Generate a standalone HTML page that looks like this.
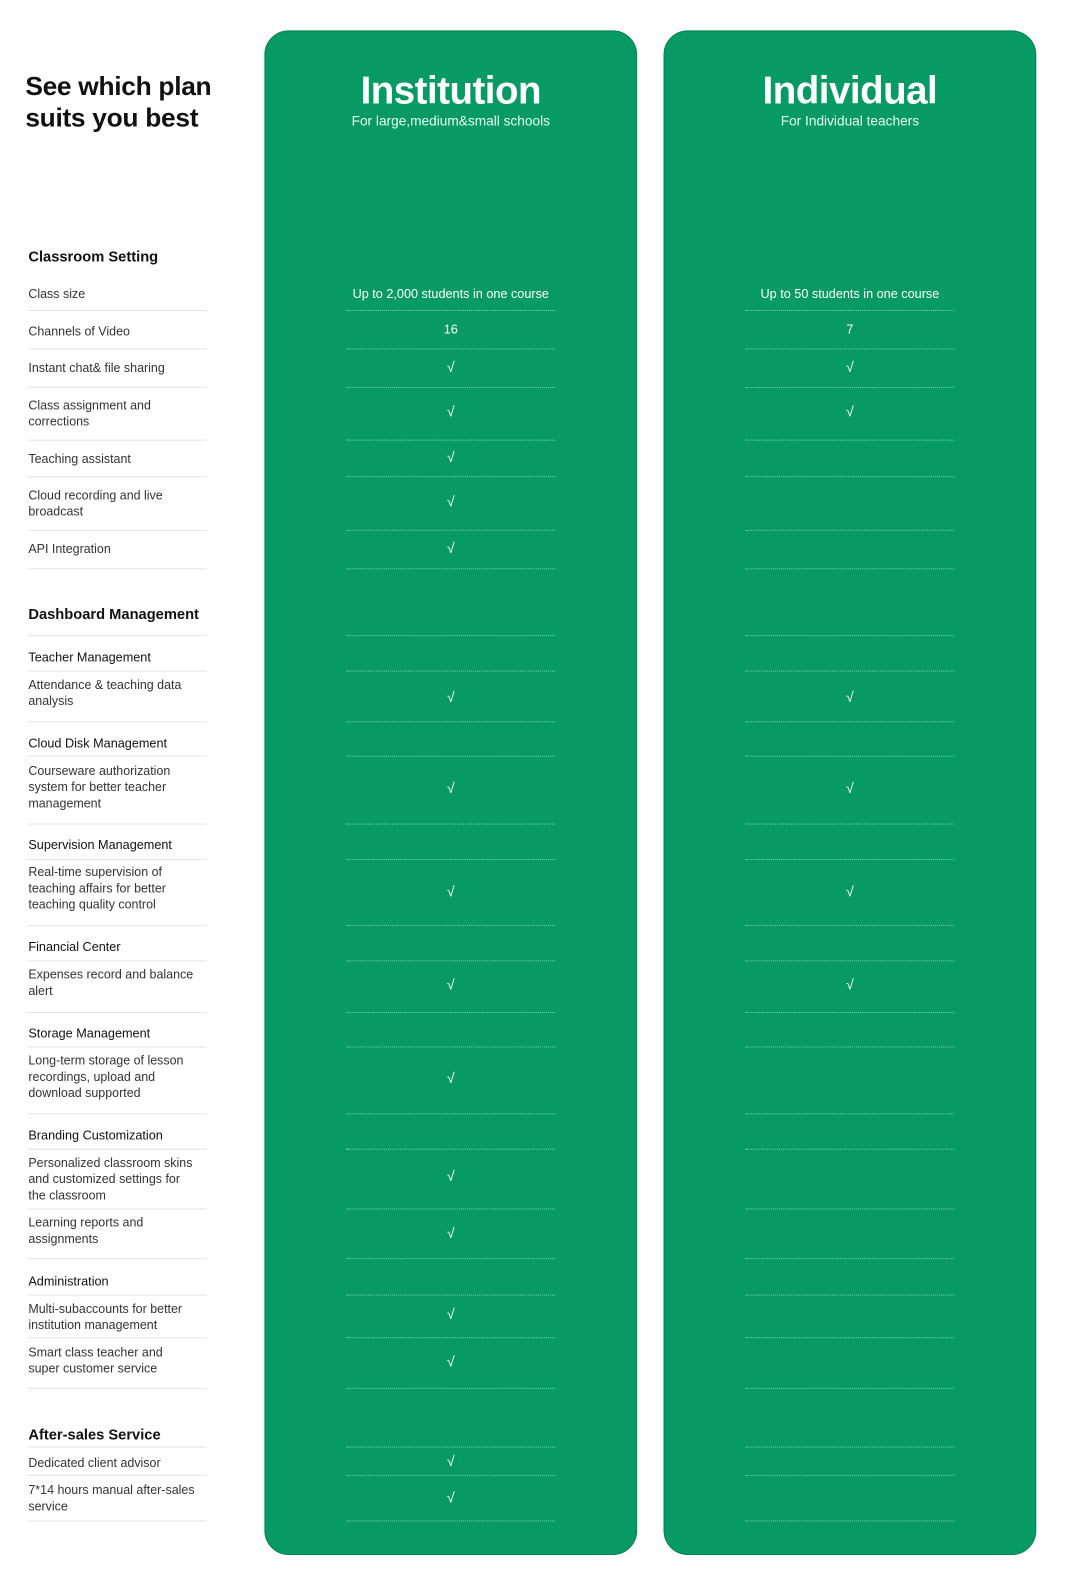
<!DOCTYPE html>
<html><head><meta charset="utf-8"><style>
html,body{margin:0;padding:0;background:#fff;width:1070px;height:1588px;overflow:hidden}
#w{position:absolute;left:0;top:0;width:1056px;height:1568px;transform:scale(1.013);transform-origin:0 0;font-family:"Liberation Sans",sans-serif}
.p{position:absolute;top:30px;width:366px;height:1503px;background:#079a64;border:1px solid #06804f;border-radius:24px}
.h{position:absolute;left:25px;font-size:26px;font-weight:bold;color:#111;letter-spacing:-0.3px}
.t{position:absolute;width:368px;text-align:center;color:#fff;font-weight:bold;font-size:38px;top:69px;letter-spacing:-0.5px}
.st{position:absolute;width:368px;text-align:center;color:#eafff4;font-size:13.5px;top:112px}
.l{position:absolute;left:28px;width:185px;font-size:12.3px;line-height:16px;color:#333}
.b{position:absolute;left:28px;font-size:14.5px;font-weight:bold;color:#111}
.m{position:absolute;left:28px;font-size:12.5px;color:#111}
.s{position:absolute;left:28px;width:176px;height:0;border-top:1px solid #e3e3e3}
.d{position:absolute;width:206px;height:0;border-top:1px dotted rgba(255,255,255,0.5)}
.c{position:absolute;width:40px;text-align:center;color:#fff;font-size:14px;line-height:16px}
.v{position:absolute;width:260px;text-align:center;color:#fff;font-size:12.5px;line-height:16px}
</style></head><body><div id="w">
<div class="h" style="top:70px">See which plan</div>
<div class="h" style="top:101px">suits you best</div>

<div class="p" style="left:261px"></div>
<div class="p" style="left:655px"></div>
<div class="t" style="left:261px">Institution</div>
<div class="st" style="left:261px">For large,medium&amp;small schools</div>
<div class="t" style="left:655px">Individual</div>
<div class="st" style="left:655px">For Individual teachers</div>

<div class="b" style="top:246px">Classroom Setting</div>
<div class="l" style="top:282px">Class size</div>
<div class="l" style="top:319px">Channels of Video</div>
<div class="l" style="top:355px">Instant chat&amp; file sharing</div>
<div class="l" style="top:392px">Class assignment and<br>corrections</div>
<div class="l" style="top:445px">Teaching assistant</div>
<div class="l" style="top:481px">Cloud recording and live<br>broadcast</div>
<div class="l" style="top:534px">API Integration</div>
<div class="b" style="top:599px">Dashboard Management</div>
<div class="m" style="top:642px">Teacher Management</div>
<div class="l" style="top:668px">Attendance &amp; teaching data<br>analysis</div>
<div class="m" style="top:727px">Cloud Disk Management</div>
<div class="l" style="top:753px">Courseware authorization<br>system for better teacher<br>management</div>
<div class="m" style="top:827px">Supervision Management</div>
<div class="l" style="top:853px">Real-time supervision of<br>teaching affairs for better<br>teaching quality control</div>
<div class="m" style="top:928px">Financial Center</div>
<div class="l" style="top:954px">Expenses record and balance<br>alert</div>
<div class="m" style="top:1013px">Storage Management</div>
<div class="l" style="top:1039px">Long-term storage of lesson<br>recordings, upload and<br>download supported</div>
<div class="m" style="top:1114px">Branding Customization</div>
<div class="l" style="top:1140px">Personalized classroom skins<br>and customized settings for<br>the classroom</div>
<div class="l" style="top:1199px">Learning reports and<br>assignments</div>
<div class="m" style="top:1258px">Administration</div>
<div class="l" style="top:1284px">Multi-subaccounts for better<br>institution management</div>
<div class="l" style="top:1327px">Smart class teacher and<br>super customer service</div>
<div class="b" style="top:1409px">After-sales Service</div>
<div class="l" style="top:1436px">Dedicated client advisor</div>
<div class="l" style="top:1463px">7*14 hours manual after-sales<br>service</div>

<div class="s" style="top:306px"></div><div class="d" style="left:342px;top:306px"></div><div class="d" style="left:736px;top:306px"></div>
<div class="s" style="top:344px"></div><div class="d" style="left:342px;top:344px"></div><div class="d" style="left:736px;top:344px"></div>
<div class="s" style="top:382px"></div><div class="d" style="left:342px;top:382px"></div><div class="d" style="left:736px;top:382px"></div>
<div class="s" style="top:434px"></div><div class="d" style="left:342px;top:434px"></div><div class="d" style="left:736px;top:434px"></div>
<div class="s" style="top:470px"></div><div class="d" style="left:342px;top:470px"></div><div class="d" style="left:736px;top:470px"></div>
<div class="s" style="top:523px"></div><div class="d" style="left:342px;top:523px"></div><div class="d" style="left:736px;top:523px"></div>
<div class="s" style="top:561px"></div><div class="d" style="left:342px;top:561px"></div><div class="d" style="left:736px;top:561px"></div>
<div class="s" style="top:627px"></div><div class="d" style="left:342px;top:627px"></div><div class="d" style="left:736px;top:627px"></div>
<div class="s" style="top:662px"></div><div class="d" style="left:342px;top:662px"></div><div class="d" style="left:736px;top:662px"></div>
<div class="s" style="top:712px"></div><div class="d" style="left:342px;top:712px"></div><div class="d" style="left:736px;top:712px"></div>
<div class="s" style="top:746px"></div><div class="d" style="left:342px;top:746px"></div><div class="d" style="left:736px;top:746px"></div>
<div class="s" style="top:813px"></div><div class="d" style="left:342px;top:813px"></div><div class="d" style="left:736px;top:813px"></div>
<div class="s" style="top:848px"></div><div class="d" style="left:342px;top:848px"></div><div class="d" style="left:736px;top:848px"></div>
<div class="s" style="top:913px"></div><div class="d" style="left:342px;top:913px"></div><div class="d" style="left:736px;top:913px"></div>
<div class="s" style="top:948px"></div><div class="d" style="left:342px;top:948px"></div><div class="d" style="left:736px;top:948px"></div>
<div class="s" style="top:999px"></div><div class="d" style="left:342px;top:999px"></div><div class="d" style="left:736px;top:999px"></div>
<div class="s" style="top:1033px"></div><div class="d" style="left:342px;top:1033px"></div><div class="d" style="left:736px;top:1033px"></div>
<div class="s" style="top:1099px"></div><div class="d" style="left:342px;top:1099px"></div><div class="d" style="left:736px;top:1099px"></div>
<div class="s" style="top:1134px"></div><div class="d" style="left:342px;top:1134px"></div><div class="d" style="left:736px;top:1134px"></div>
<div class="s" style="top:1193px"></div><div class="d" style="left:342px;top:1193px"></div><div class="d" style="left:736px;top:1193px"></div>
<div class="s" style="top:1242px"></div><div class="d" style="left:342px;top:1242px"></div><div class="d" style="left:736px;top:1242px"></div>
<div class="s" style="top:1278px"></div><div class="d" style="left:342px;top:1278px"></div><div class="d" style="left:736px;top:1278px"></div>
<div class="s" style="top:1320px"></div><div class="d" style="left:342px;top:1320px"></div><div class="d" style="left:736px;top:1320px"></div>
<div class="s" style="top:1370px"></div><div class="d" style="left:342px;top:1370px"></div><div class="d" style="left:736px;top:1370px"></div>
<div class="s" style="top:1428px"></div><div class="d" style="left:342px;top:1428px"></div><div class="d" style="left:736px;top:1428px"></div>
<div class="s" style="top:1456px"></div><div class="d" style="left:342px;top:1456px"></div><div class="d" style="left:736px;top:1456px"></div>
<div class="s" style="top:1501px"></div><div class="d" style="left:342px;top:1501px"></div><div class="d" style="left:736px;top:1501px"></div>

<div class="v" style="left:315px;top:282px">Up to 2,000 students in one course</div>
<div class="v" style="left:709px;top:282px">Up to 50 students in one course</div>
<div class="v" style="left:315px;top:317px">16</div>
<div class="v" style="left:709px;top:317px">7</div>

<div class="c" style="left:425px;top:354px">√</div>
<div class="c" style="left:425px;top:398px">√</div>
<div class="c" style="left:425px;top:443px">√</div>
<div class="c" style="left:425px;top:487px">√</div>
<div class="c" style="left:425px;top:533px">√</div>
<div class="c" style="left:425px;top:680px">√</div>
<div class="c" style="left:425px;top:770px">√</div>
<div class="c" style="left:425px;top:872px">√</div>
<div class="c" style="left:425px;top:964px">√</div>
<div class="c" style="left:425px;top:1056px">√</div>
<div class="c" style="left:425px;top:1153px">√</div>
<div class="c" style="left:425px;top:1209px">√</div>
<div class="c" style="left:425px;top:1289px">√</div>
<div class="c" style="left:425px;top:1336px">√</div>
<div class="c" style="left:425px;top:1434px">√</div>
<div class="c" style="left:425px;top:1470px">√</div>
<div class="c" style="left:819px;top:354px">√</div>
<div class="c" style="left:819px;top:398px">√</div>
<div class="c" style="left:819px;top:680px">√</div>
<div class="c" style="left:819px;top:770px">√</div>
<div class="c" style="left:819px;top:872px">√</div>
<div class="c" style="left:819px;top:964px">√</div>
</div></body></html>
